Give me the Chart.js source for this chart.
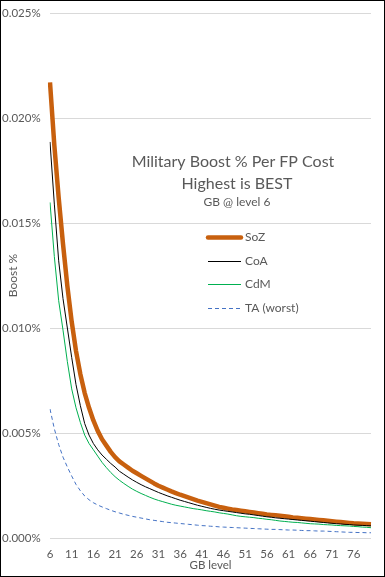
<!DOCTYPE html>
<html>
<head>
<meta charset="utf-8">
<script src="https://cdn.jsdelivr.net/npm/chart.js@4"></script>
<style>
  body { margin: 0; background: #fff; }
  #wrap { width: 383px; height: 575px; border: 1px solid #000; background: #fff; }
  canvas { display: block; }
</style>
</head>
<body>
<div id="wrap"><canvas id="boostChart" width="383" height="575"></canvas></div>
<script>
// GB level 6..80
const levels = [6, 7, 8, 9, 10, 11, 12, 13, 14, 15, 16, 17, 18, 19, 20, 21, 22, 23, 24, 25,
  26, 27, 28, 29, 30, 31, 32, 33, 34, 35, 36, 37, 38, 39, 40, 41, 42, 43, 44, 45,
  46, 47, 48, 49, 50, 51, 52, 53, 54, 55, 56, 57, 58, 59, 60, 61, 62, 63, 64, 65,
  66, 67, 68, 69, 70, 71, 72, 73, 74, 75, 76, 77, 78, 79, 80];

// boost % per FP (values in %)
const soz = [0.02170, 0.01870, 0.01620, 0.01400, 0.01200, 0.01030, 0.00890, 0.00780, 0.00690, 0.00620,
  0.00560, 0.00510, 0.00470, 0.00440, 0.00410, 0.00385, 0.00365, 0.00350, 0.00335, 0.00320,
  0.00308, 0.00296, 0.00284, 0.00272, 0.00260, 0.00249, 0.00240, 0.00231, 0.00222, 0.00214,
  0.00206, 0.00199, 0.00192, 0.00185, 0.00178, 0.00172, 0.00166, 0.00160, 0.00154, 0.00148,
  0.00144, 0.00140, 0.00136, 0.00133, 0.00130, 0.00127, 0.00124, 0.00121, 0.00118, 0.00115,
  0.00112, 0.00110, 0.00108, 0.00106, 0.00104, 0.00101, 0.00098, 0.00096, 0.00094, 0.00092,
  0.00090, 0.00088, 0.00086, 0.00084, 0.00082, 0.00080, 0.00078, 0.00076, 0.00074, 0.00072,
  0.00070, 0.00069, 0.00068, 0.00067, 0.00066];
const coa = [0.01886, 0.01590, 0.01320, 0.01140, 0.01000, 0.00860, 0.00730, 0.00630, 0.00545, 0.00490,
  0.00450, 0.00420, 0.00395, 0.00375, 0.00355, 0.00338, 0.00318, 0.00304, 0.00290, 0.00277,
  0.00265, 0.00254, 0.00244, 0.00235, 0.00226, 0.00217, 0.00209, 0.00201, 0.00194, 0.00187,
  0.00180, 0.00174, 0.00168, 0.00162, 0.00156, 0.00151, 0.00146, 0.00141, 0.00137, 0.00133,
  0.00130, 0.00127, 0.00124, 0.00121, 0.00118, 0.00115, 0.00113, 0.00110, 0.00107, 0.00104,
  0.00101, 0.00099, 0.00096, 0.00094, 0.00092, 0.00090, 0.00088, 0.00086, 0.00084, 0.00082,
  0.00080, 0.00078, 0.00076, 0.00074, 0.00072, 0.00070, 0.00068, 0.00067, 0.00065, 0.00064,
  0.00062, 0.00061, 0.00060, 0.00059, 0.00058];
const cdm = [0.01598, 0.01340, 0.01130, 0.00990, 0.00840, 0.00710, 0.00620, 0.00550, 0.00490, 0.00450,
  0.00420, 0.00390, 0.00360, 0.00335, 0.00312, 0.00292, 0.00275, 0.00260, 0.00246, 0.00233,
  0.00222, 0.00212, 0.00203, 0.00194, 0.00186, 0.00179, 0.00173, 0.00167, 0.00161, 0.00156,
  0.00152, 0.00148, 0.00144, 0.00140, 0.00137, 0.00134, 0.00130, 0.00127, 0.00124, 0.00120,
  0.00117, 0.00114, 0.00110, 0.00106, 0.00103, 0.00101, 0.00099, 0.00097, 0.00094, 0.00092,
  0.00089, 0.00087, 0.00084, 0.00081, 0.00079, 0.00077, 0.00075, 0.00074, 0.00072, 0.00070,
  0.00068, 0.00067, 0.00066, 0.00064, 0.00063, 0.00062, 0.00060, 0.00059, 0.00058, 0.00057,
  0.00055, 0.00054, 0.00052, 0.00051, 0.00049];
const ta = [0.00614, 0.00520, 0.00445, 0.00385, 0.00338, 0.00295, 0.00255, 0.00225, 0.00200, 0.00182,
  0.00168, 0.00157, 0.00148, 0.00140, 0.00132, 0.00125, 0.00119, 0.00113, 0.00108, 0.00103,
  0.00099, 0.00095, 0.00091, 0.00087, 0.00084, 0.00081, 0.00078, 0.00075, 0.00073, 0.00071,
  0.00069, 0.00067, 0.00065, 0.00063, 0.00061, 0.00059, 0.00058, 0.00056, 0.00055, 0.00053,
  0.00052, 0.00051, 0.00050, 0.00049, 0.00048, 0.00047, 0.00046, 0.00045, 0.00044, 0.00043,
  0.00042, 0.00041, 0.00041, 0.00040, 0.00039, 0.00038, 0.00038, 0.00037, 0.00036, 0.00035,
  0.00035, 0.00034, 0.00033, 0.00033, 0.00032, 0.00031, 0.00030, 0.00029, 0.00028, 0.00027,
  0.00027, 0.00026, 0.00026, 0.00025, 0.00025];

const titleLines = ["Military Boost % Per FP Cost", "Highest is BEST", "GB @ level 6"];
const yTicks = [0, 0.005, 0.010, 0.015, 0.020, 0.025];

const FONT = "Lato, 'Open Sans', sans-serif";
const GREY = "#595959";

// title + legend inside the plot
const innerText = {
  id: "innerText",
  afterDraw(chart) {
    const ctx = chart.ctx;
    ctx.save();
    ctx.fillStyle = GREY;
    ctx.textAlign = "center";
    ctx.textBaseline = "middle";
    ctx.font = "16px " + FONT;
    ctx.fillText(titleLines[0], 232, 160.5);
    ctx.fillText(titleLines[1], 236, 182.5);
    ctx.font = "12px " + FONT;
    ctx.fillText(titleLines[2], 236, 201.5);

    const rows = [236.5, 260.5, 283.5, 307.5];
    chart.data.datasets.forEach(function (ds, i) {
      const y = rows[i];
      ctx.beginPath();
      ctx.strokeStyle = ds.borderColor;
      ctx.lineWidth = ds.borderWidth;
      ctx.lineCap = i === 0 ? "round" : "butt";
      ctx.setLineDash(ds.borderDash || []);
      ctx.moveTo(207, y);
      ctx.lineTo(240, y);
      ctx.stroke();
      ctx.setLineDash([]);
      ctx.fillStyle = GREY;
      ctx.textAlign = "left";
      ctx.font = "12px " + FONT;
      ctx.fillText(ds.label, 244, y);
    });
    ctx.restore();
  }
};

const ctx = document.getElementById("boostChart").getContext("2d");
new Chart(ctx, {
  type: "line",
  data: {
    labels: levels,
    datasets: [
      { label: "SoZ", data: soz, borderColor: "#C8600E", borderWidth: 4.5, order: 3 },
      { label: "CoA", data: coa, borderColor: "#000000", borderWidth: 1, order: 2 },
      { label: "CdM", data: cdm, borderColor: "#00B050", borderWidth: 1, order: 1 },
      { label: "TA (worst)", data: ta, borderColor: "#4472C4", borderWidth: 1, borderDash: [4, 3], order: 0 }
    ]
  },
  options: {
    responsive: false,
    animation: false,
    devicePixelRatio: 1,
    layout: { padding: { top: 12, right: 13, left: 1, bottom: 0 } },
    elements: { point: { radius: 0 }, line: { tension: 0, borderJoinStyle: "round" } },
    plugins: { legend: { display: false }, tooltip: { enabled: false } },
    scales: {
      x: {
        offset: false,
        grid: { display: false, drawTicks: false },
        border: { display: false },
        afterFit: function (s) { s.height = 38; },
        ticks: {
          autoSkip: false,
          maxRotation: 0,
          padding: 9,
          color: GREY,
          font: { family: FONT, size: 11.5 },
          callback: function (v, i) { return i % 5 === 0 ? this.getLabelForValue(v) : null; }
        },
        title: { display: true, text: "GB level", color: GREY, font: { family: FONT, size: 11.5 }, padding: { top: 0, bottom: 4 } }
      },
      y: {
        min: 0,
        max: 0.025,
        grid: { color: "#D9D9D9", drawTicks: false },
        border: { display: false },
        afterFit: function (s) { s.width = 48; },
        afterBuildTicks: function (s) { s.ticks = yTicks.map(function (v) { return { value: v }; }); },
        ticks: {
          padding: 0,
          crossAlign: "far",
          color: GREY,
          font: { family: FONT, size: 11.5 },
          callback: function (v) { return v.toFixed(3) + "%"; }
        },
        title: { display: true, text: "Boost %", color: GREY, font: { family: FONT, size: 12 }, padding: { top: 4, bottom: 0 } }
      }
    }
  },
  plugins: [innerText]
});
</script>
</body>
</html>
